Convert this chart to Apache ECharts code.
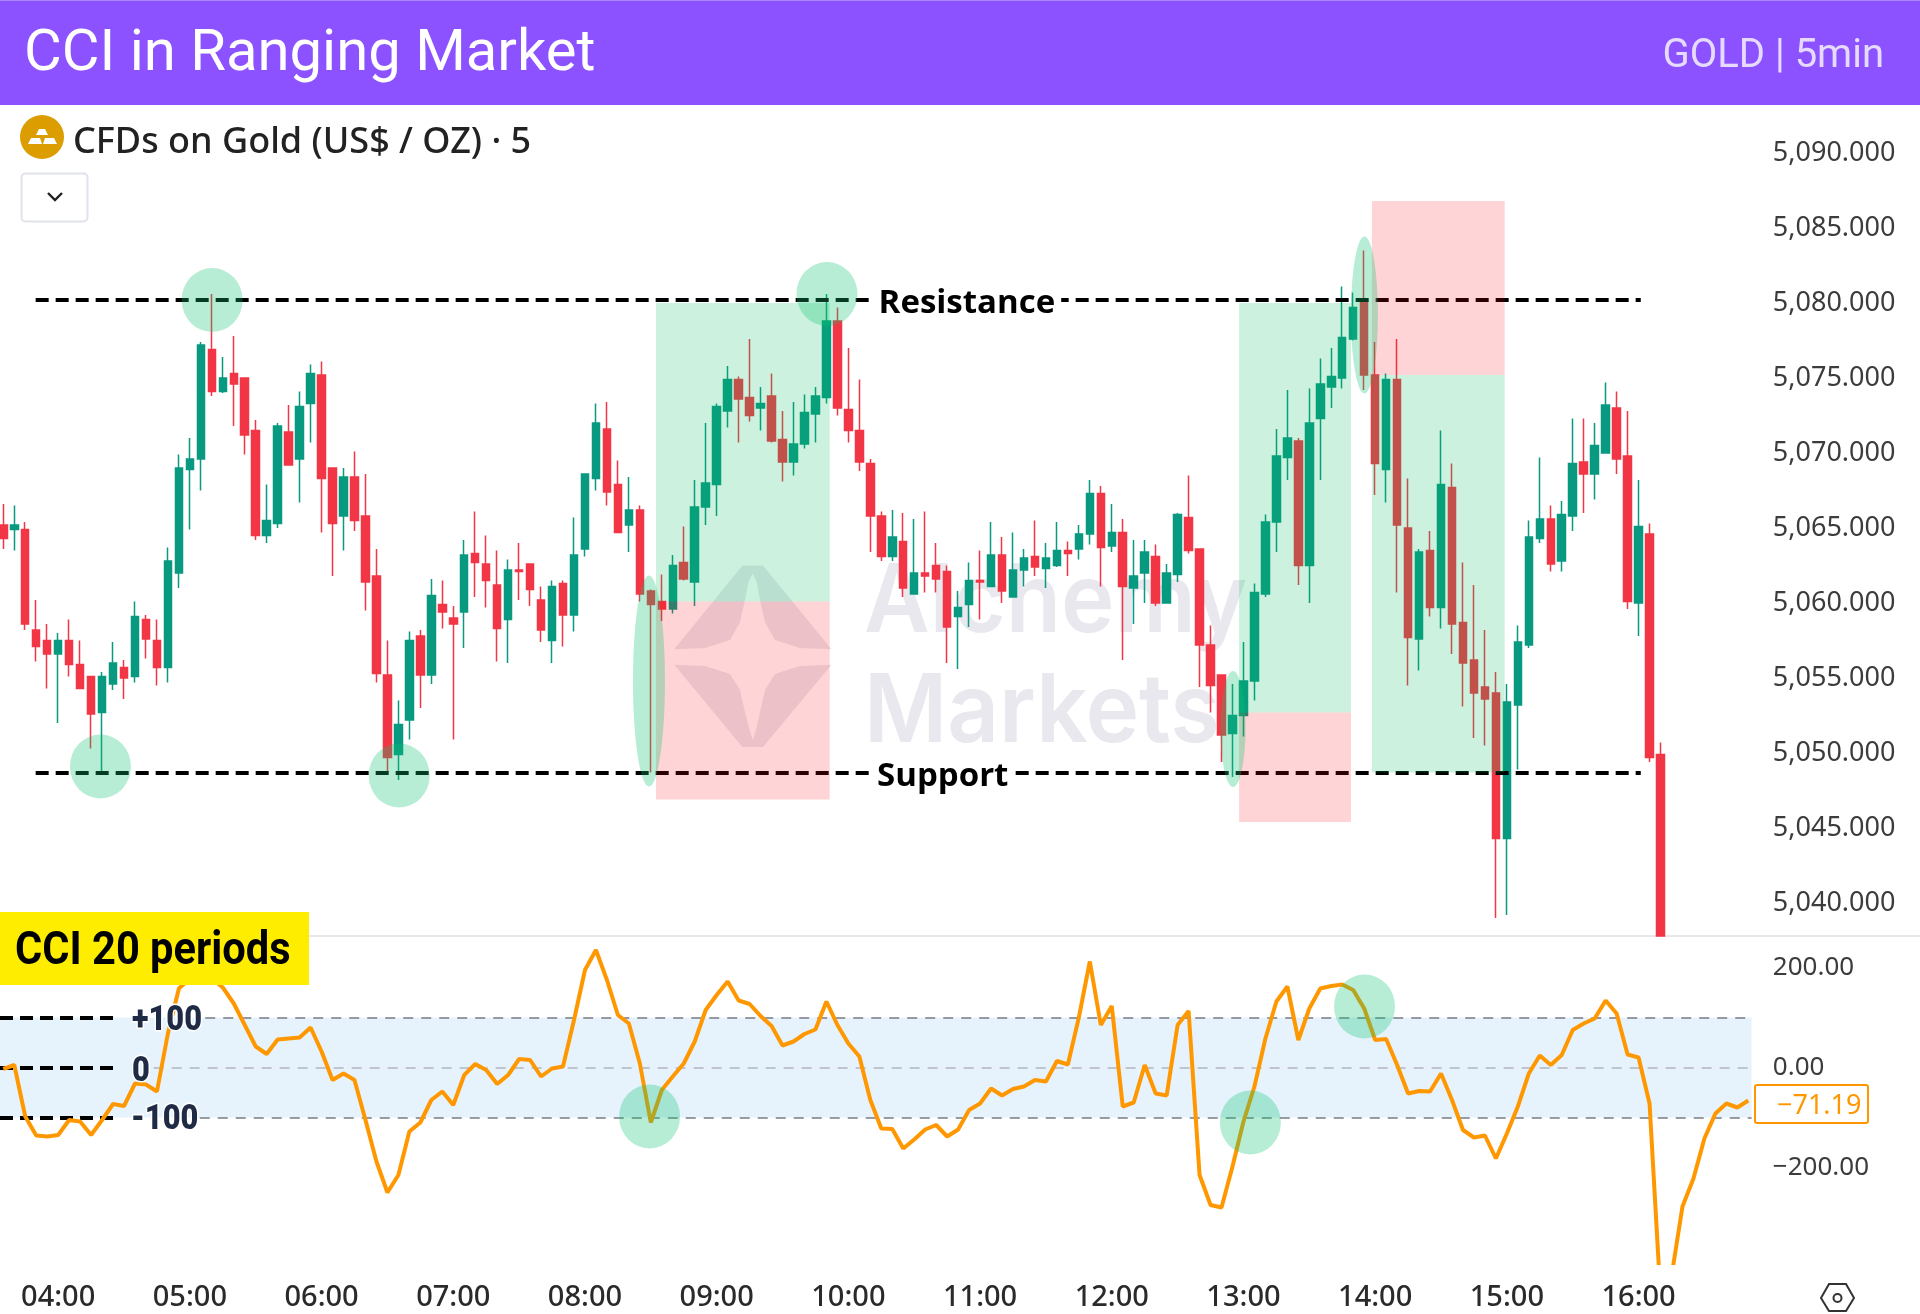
<!DOCTYPE html>
<html>
<head>
<meta charset="utf-8">
<title>CCI in Ranging Market</title>
<script src="https://cdn.jsdelivr.net/npm/echarts@6/dist/echarts.min.js"></script>
<style>
html, body { margin: 0; padding: 0; background: #fff; }
#chart { width: 1920px; height: 1314px; }
</style>
</head>
<body>
<div id="chart"></div>
<script>
"use strict";

// 5 minute candles, first one is 03:35
var opens = [
5065.2,5064.9,5064.9,5058.2,5057.5,5056.6,5057.5,5055.9,5055.1,5052.7,5054.6,5055.7,5055.1,5058.9,5057.5,5055.7,
5062.0,5068.9,5069.6,5076.9,5074.1,5075.3,5075.0,5071.5,5064.5,5065.3,5071.4,5069.6,5073.3,5075.2,5069.0,5065.8,
5068.4,5065.8,5061.8,5055.2,5049.9,5052.2,5057.8,5055.2,5059.9,5059.0,5059.4,5063.3,5062.6,5061.2,5058.9,5062.2,
5062.6,5060.2,5057.5,5061.3,5059.2,5063.6,5068.3,5071.6,5067.9,5065.2,5066.2,5060.8,5060.1,5059.6,5062.7,5061.4,
5066.4,5067.9,5072.8,5074.9,5073.7,5073.0,5073.8,5070.9,5069.4,5070.6,5072.6,5073.7,5078.8,5072.9,5071.5,5069.3,
5065.8,5063.1,5064.1,5060.6,5062.0,5062.5,5062.1,5059.1,5059.9,5061.5,5061.1,5063.2,5060.4,5062.2,5063.1,5062.3,
5062.5,5063.5,5063.6,5064.6,5067.3,5063.8,5064.7,5061.0,5062.0,5063.1,5060.0,5061.9,5065.7,5063.6,5057.2,5055.2,
5051.3,5052.5,5054.8,5060.6,5065.4,5069.7,5070.8,5062.5,5072.3,5074.4,5075.0,5077.6,5080.1,5075.2,5068.9,5074.9,
5065.0,5057.6,5063.5,5059.7,5067.7,5058.7,5056.2,5054.4,5054.0,5044.3,5053.2,5057.2,5064.3,5065.6,5062.8,5065.8,
5069.4,5068.6,5070.0,5073.0,5069.8,5060.0,5064.6,5049.9
];
var closes = [
5064.3,5065.2,5058.6,5057.1,5056.6,5057.5,5055.9,5054.3,5052.6,5055.1,5056.0,5055.0,5059.1,5057.6,5055.7,5062.8,
5069.0,5069.6,5077.2,5074.1,5075.0,5074.6,5071.2,5064.5,5065.5,5071.8,5069.2,5073.1,5075.3,5068.3,5065.3,5068.4,
5065.5,5061.4,5055.3,5049.7,5051.9,5057.5,5055.2,5060.5,5059.4,5058.6,5063.2,5062.7,5061.5,5058.3,5062.2,5062.1,
5060.9,5058.2,5061.1,5059.2,5063.2,5068.6,5072.0,5067.4,5064.7,5066.2,5060.6,5059.9,5059.6,5062.5,5061.6,5066.4,
5068.0,5073.1,5074.9,5073.6,5072.5,5073.3,5070.8,5069.4,5070.6,5072.7,5073.8,5078.8,5073.0,5071.5,5069.4,5065.8,
5063.1,5064.4,5061.0,5062.0,5061.8,5061.6,5058.4,5059.7,5061.5,5061.4,5063.2,5060.8,5062.2,5063.0,5062.4,5063.0,
5063.5,5063.3,5064.6,5067.3,5063.7,5064.7,5061.1,5061.8,5063.4,5060.0,5062.0,5065.9,5063.5,5057.2,5054.5,5051.2,
5052.5,5054.8,5060.7,5065.4,5069.8,5071.0,5062.5,5072.0,5074.6,5075.1,5077.7,5079.7,5075.2,5069.3,5074.9,5065.2,
5057.7,5063.4,5059.7,5067.9,5058.6,5056.0,5054.0,5053.6,5044.3,5053.4,5057.4,5064.4,5065.6,5062.6,5065.9,5069.3,
5068.6,5070.5,5073.2,5069.6,5060.1,5065.1,5049.7,5037.8
];
var lows = [
5063.6,5063.5,5058.2,5056.1,5054.3,5052.0,5055.1,5054.3,5050.3,5048.7,5054.2,5053.6,5054.7,5056.3,5054.5,5054.7,
5061.0,5064.9,5067.5,5073.8,5074.0,5071.8,5069.9,5064.2,5064.0,5065.0,5069.2,5066.7,5070.7,5064.7,5061.8,5063.5,
5064.8,5059.5,5054.7,5048.7,5048.2,5050.9,5053.0,5054.6,5058.3,5050.9,5057.0,5060.4,5059.7,5056.1,5056.0,5060.2,
5059.8,5057.4,5056.0,5057.1,5058.1,5063.1,5067.5,5066.5,5064.7,5063.4,5060.1,5048.7,5058.8,5059.3,5061.5,5059.8,
5065.2,5065.8,5071.7,5070.7,5072.1,5071.5,5070.7,5068.1,5068.5,5070.3,5070.7,5073.3,5072.5,5070.7,5068.8,5063.4,
5062.8,5062.8,5060.4,5060.6,5060.7,5060.7,5056.0,5055.6,5058.4,5058.9,5061.1,5060.0,5060.4,5061.1,5061.8,5061.0,
5062.4,5061.8,5062.9,5063.9,5061.1,5063.4,5056.2,5058.6,5060.0,5059.8,5060.0,5061.4,5063.3,5054.4,5052.7,5049.4,
5048.4,5051.1,5053.5,5060.4,5063.4,5068.2,5061.2,5060.0,5068.2,5073.0,5074.3,5077.5,5074.2,5067.2,5066.7,5060.7,
5054.5,5055.5,5059.1,5058.3,5056.6,5053.1,5051.0,5050.5,5039.0,5039.2,5048.9,5057.0,5064.0,5062.1,5062.1,5064.8,
5066.0,5066.9,5070.0,5068.6,5059.6,5057.8,5049.4,5037.8
];
var highs = [
5066.6,5066.5,5065.4,5060.2,5058.6,5058.0,5058.9,5057.5,5055.1,5055.4,5057.4,5056.2,5060.1,5059.2,5058.9,5063.7,
5069.9,5071.0,5077.4,5080.6,5076.4,5077.8,5075.0,5072.2,5067.9,5072.0,5073.2,5074.1,5075.9,5076.1,5069.0,5069.0,
5070.1,5068.6,5063.6,5057.5,5053.5,5058.1,5058.2,5061.6,5061.5,5059.8,5064.2,5066.1,5064.5,5063.5,5062.9,5064.0,
5062.6,5061.1,5061.5,5061.5,5065.7,5068.6,5073.3,5073.4,5069.5,5068.4,5066.5,5060.9,5061.9,5063.2,5065.1,5068.2,
5072.0,5073.3,5075.8,5075.1,5077.6,5074.4,5075.3,5072.8,5073.4,5073.9,5074.4,5080.6,5079.7,5077.0,5074.9,5069.6,
5066.1,5066.2,5066.0,5065.6,5066.1,5064.0,5062.5,5060.8,5062.7,5063.5,5065.4,5064.4,5064.7,5063.6,5065.5,5064.0,
5065.4,5064.1,5065.2,5068.2,5067.8,5066.6,5065.6,5064.2,5064.2,5063.9,5062.6,5066.0,5068.5,5063.6,5058.5,5055.2,
5054.6,5057.4,5061.3,5065.9,5071.6,5074.2,5071.0,5074.3,5076.3,5077.0,5081.1,5080.7,5083.5,5077.4,5075.3,5077.6,
5068.3,5063.6,5064.8,5071.5,5069.3,5062.7,5061.2,5058.2,5055.4,5054.6,5058.5,5065.5,5069.7,5066.5,5066.8,5072.3,
5072.3,5072.0,5074.7,5074.1,5072.8,5068.2,5065.3,5050.7
];
// CCI(20), one value per candle, the last ones have no price candle in the picture
var cciValues = [
-3,5,-98,-136,-138,-135,-105,-108,-135,-105,
-73,-77,-32,-34,-48,68,158,178,185,178,
160,128,85,42,27,56,58,60,80,32,
-25,-12,-25,-105,-188,-250,-215,-128,-110,-65,
-48,-75,-15,7,-5,-33,-15,17,15,-18,
-2,2,95,195,235,175,105,88,8,-110,
-45,-18,8,52,115,145,172,134,127,103,
83,44,52,67,76,132,85,48,22,-65,
-122,-123,-162,-144,-124,-115,-138,-124,-85,-72,
-42,-56,-43,-38,-25,-28,13,6,100,212,
85,123,-78,-70,5,-52,-56,85,113,-215,
-275,-280,-198,-108,-38,58,132,162,55,118,
158,163,166,155,118,55,57,5,-52,-47,
-48,-12,-65,-125,-140,-136,-182,-132,-78,-12,
24,5,25,75,88,98,134,108,26,20,
-72,-458,-418,-278,-222,-142,-92,-72,-80,-66
];
var priceTicks = [5040, 5045, 5050, 5055, 5060, 5065, 5070, 5075, 5080, 5085, 5090];
var cciTicks = [-200, 0, 200];
var cciLastLabel = "\u221271.19";
var resistanceLevel = 5080.2;
var supportLevel = 5048.7;

// annotation x values are in candle widths from the left of the plot
var zoneStartsGreen = [59.97, 113.1, 125.2];
var zoneEndsGreen = [75.8, 123.3, 137.3];
var zoneTopsGreen = [5080.0, 5080.0, 5075.2];
var zoneBottomsGreen = [5060.1, 5052.7, 5048.7];
var zoneStartsRed = [59.97, 113.1, 125.2];
var zoneEndsRed = [75.8, 123.3, 137.3];
var zoneTopsRed = [5060.1, 5052.7, 5086.8];
var zoneBottomsRed = [5046.9, 5045.4, 5075.2];
var priceMarkX = [19.53, 9.35, 36.57, 75.55, 59.33, 112.55, 124.52];
var priceMarkY = [5080.2, 5049.1, 5048.5, 5080.6, 5054.8, 5051.6, 5079.2];
var cciMarkX = [59.39, 114.13, 124.53];
var cciMarkY = [-98, -110, 122];

// x axis labels
var categories = [];
for (var c = 0; c < cciValues.length; c++) {
    var minutes = 3 * 60 + 35 + c * 5;
    var hh = Math.floor(minutes / 60);
    var mm = minutes % 60;
    categories.push((hh < 10 ? "0" : "") + hh + ":" + (mm < 10 ? "0" : "") + mm);
}

var candleData = [];
for (var i = 0; i < opens.length; i++) {
    candleData.push([opens[i], closes[i], lows[i], highs[i]]);
}

// size of the highlight ellipses
var priceMarkSize = [[61, 64], [61, 64], [61, 64], [61, 64], [32, 211], [25, 116], [27, 157]];
var cciMarkSize = [[61, 64], [61, 64], [61, 64]];
var priceMarks = priceMarkX.map(function (x, k) {
    return { value: [x, priceMarkY[k]], symbolSize: priceMarkSize[k] };
});
var cciMarks = cciMarkX.map(function (x, k) {
    return { value: [x, cciMarkY[k]], symbolSize: cciMarkSize[k] };
});

var zoneAreas = [];
zoneStartsGreen.forEach(function (x, k) {
    zoneAreas.push([
        { coord: [x, zoneTopsGreen[k]], itemStyle: { color: "rgba(0,190,95,0.2)" } },
        { coord: [zoneEndsGreen[k], zoneBottomsGreen[k]] }
    ]);
});
zoneStartsRed.forEach(function (x, k) {
    zoneAreas.push([
        { coord: [x, zoneTopsRed[k]], itemStyle: { color: "rgba(255,0,10,0.17)" } },
        { coord: [zoneEndsRed[k], zoneBottomsRed[k]] }
    ]);
});

var blackDash = { color: "#000", width: 4, type: [13, 7] };
var greyDash = { color: "#787B86", width: 1.6, type: [10, 8] };
var lightDash = { color: "#B2B5BE", width: 1.6, type: [10, 8] };

function levelLine(x0, x1, y, style) {
    return [{ coord: [x0, y], lineStyle: style }, { coord: [x1, y] }];
}

var uiFont = '"Noto Sans", sans-serif';

var option = {
    backgroundColor: "#fff",
    animation: false,
    title: {
        text: "CCI in Ranging Market",
        left: 19,
        top: 21,
        z: 12,
        textStyle: { color: "#fff", fontSize: 58, fontWeight: "normal", fontFamily: "Roboto" }
    },
    grid: [
        { left: -2.19, width: 1756, top: 105, height: 831, outerBoundsMode: "none" },
        { left: -2.19, width: 1756, top: 936, height: 327, outerBoundsMode: "none" }
    ],
    xAxis: [
        { type: "category", gridIndex: 0, data: categories, show: false },
        {
            type: "category",
            gridIndex: 1,
            data: categories,
            axisLine: { show: false },
            axisTick: { show: false },
            axisLabel: {
                margin: 20,
                color: "#2a2a2a",
                fontSize: 29,
                fontWeight: 500,
                fontFamily: uiFont,
                interval: function (index) { return index % 12 === 5; }
            }
        },
        { type: "value", gridIndex: 0, min: 0, max: 160, show: false },
        { type: "value", gridIndex: 1, min: 0, max: 160, show: false }
    ],
    yAxis: [
        {
            type: "value",
            gridIndex: 0,
            position: "right",
            min: 5037.8,
            max: 5093.2,
            splitLine: { show: false },
            axisLine: { show: false },
            axisTick: { show: false },
            axisLabel: {
                customValues: priceTicks,
                margin: 19,
                color: "#3c3c3c",
                fontSize: 27,
                padding: [10, 0, 0, 0],
                fontFamily: uiFont,
                formatter: function (v) {
                    return v.toFixed(3).replace(/^(\d)(\d{3})/, "$1,$2");
                }
            }
        },
        {
            type: "value",
            gridIndex: 1,
            position: "right",
            min: -391,
            max: 263,
            splitLine: { show: false },
            axisLine: { show: false },
            axisTick: { show: false },
            axisLabel: {
                customValues: cciTicks,
                margin: 19,
                color: "#3c3c3c",
                fontSize: 26,
                padding: [10, 0, 0, 0],
                fontFamily: uiFont,
                formatter: function (v) {
                    return (v < 0 ? "\u2212" : "") + Math.abs(v).toFixed(2);
                }
            }
        }
    ],
    series: [
        {
            name: "CFDs on Gold",
            type: "candlestick",
            xAxisIndex: 0,
            yAxisIndex: 0,
            barWidth: 8,
            data: candleData,
            itemStyle: {
                color: "#089981",
                color0: "#F23645",
                borderColor: "#089981",
                borderColor0: "#F23645",
                borderWidth: 1.5
            }
        },
        {
            name: "Zones",
            type: "scatter",
            xAxisIndex: 2,
            yAxisIndex: 0,
            z: 5,
            clip: false,
            symbol: "circle",
            data: priceMarks,
            itemStyle: { color: "rgba(12,195,112,0.3)", opacity: 1 },
            markArea: { z: 4, silent: true, data: zoneAreas },
            markLine: {
                z: 3,
                silent: true,
                symbol: "none",
                label: { show: false },
                data: [
                    levelLine(3.45, 149.7, resistanceLevel, blackDash),
                    levelLine(3.45, 149.7, supportLevel, blackDash)
                ]
            }
        },
        {
            name: "Levels",
            type: "scatter",
            xAxisIndex: 2,
            yAxisIndex: 0,
            z: 6,
            symbolSize: 1,
            itemStyle: { color: "transparent", opacity: 1 },
            label: {
                show: true,
                position: "inside",
                offset: [0, 4],
                color: "#000",
                fontSize: 33,
                fontWeight: "bold",
                fontFamily: '"Open Sans", sans-serif',
                backgroundColor: "#fff",
                padding: [0, 6],
                formatter: "{b}"
            },
            data: [
                { name: "Resistance", value: [88.3, resistanceLevel] },
                { name: "Support", value: [86.1, supportLevel] }
            ]
        },
        {
            name: "CCI",
            type: "line",
            xAxisIndex: 1,
            yAxisIndex: 1,
            z: 3,
            data: cciValues,
            symbol: "none",
            smooth: false,
            lineStyle: { color: "#FF9800", width: 4 }
        },
        {
            name: "CCI marks",
            type: "scatter",
            xAxisIndex: 3,
            yAxisIndex: 1,
            z: 5,
            symbol: "circle",
            data: cciMarks,
            itemStyle: { color: "rgba(12,195,112,0.3)", opacity: 1 },
            markArea: {
                silent: true,
                itemStyle: { color: "#E6F3FD" },
                data: [[{ coord: [0.2, 100] }, { coord: [159.8, -100] }]]
            },
            markLine: {
                z: 2,
                silent: true,
                symbol: "none",
                label: { show: false },
                data: [
                    levelLine(18.9, 159.8, 100, greyDash),
                    levelLine(14.2, 159.8, 0, lightDash),
                    levelLine(18.4, 159.8, -100, greyDash),
                    levelLine(0.2, 10.7, 100, blackDash),
                    levelLine(0.2, 10.7, 0, blackDash),
                    levelLine(0.2, 10.7, -100, blackDash)
                ]
            }
        }
    ],
    graphic: [
        // watermark under the candles
        {
            type: "polygon", z: 0, silent: true,
            shape: { points: [[742.4, 565.4], [762.9, 565.4], [831.4, 649.2], [800, 648], [775, 640], [765, 622], [760, 600], [756.7, 582], [752.7, 573.6], [748.6, 582], [745, 600], [740, 622], [730, 640], [705, 648], [674.3, 649.2]] },
            style: { fill: "#E8E8EE" }
        },
        {
            type: "polygon", z: 0, silent: true,
            shape: { points: [[674.3, 664.7], [705, 666], [730, 674], [740, 690], [745, 712], [749, 728], [752.7, 739.9], [756.7, 728], [760, 712], [765, 690], [775, 674], [800, 666], [831.4, 664.7], [762.9, 747.1], [742.4, 747.1]] },
            style: { fill: "#E8E8EE" }
        },
        {
            type: "text", z: 0, silent: true, x: 864, y: 651, scaleX: 0.95,
            style: { text: "Alchemy", fill: "#E8E8EE", font: "600 95px Inter", textVerticalAlign: "bottom" }
        },
        {
            type: "text", z: 0, silent: true, x: 864, y: 761, scaleX: 0.95,
            style: { text: "Markets", fill: "#E8E8EE", font: "600 95px Inter", textVerticalAlign: "bottom" }
        },
        // header
        { type: "rect", z: 10, shape: { x: 0, y: 0, width: 1920, height: 105 }, style: { fill: "#8C52FF" } },
        { type: "rect", z: 10, shape: { x: 0, y: 0, width: 1920, height: 1 }, style: { fill: "#A985FF" } },
        {
            type: "text", z: 12, x: 1884, y: 57,
            style: { text: "GOLD | 5min", fill: "#E6DBFF", font: "40px Roboto", textAlign: "right", textVerticalAlign: "middle" }
        },
        // symbol line
        { type: "circle", z: 10, shape: { cx: 42, cy: 137, r: 22 }, style: { fill: "#DB9D00" } },
        { type: "polygon", z: 11, shape: { points: [[39, 129], [45, 129], [48, 135], [36, 135]] }, style: { fill: "#FFF" } },
        { type: "polygon", z: 11, shape: { points: [[31, 138], [40, 138], [42, 144], [28, 144]] }, style: { fill: "#FFF" } },
        { type: "polygon", z: 11, shape: { points: [[45, 138], [54, 138], [57, 144], [43, 144]] }, style: { fill: "#FFF" } },
        {
            type: "text", z: 11, x: 73, y: 143,
            style: { text: "CFDs on Gold (US$ / OZ) \u00b7 5", fill: "#222", font: "500 36px " + uiFont, textVerticalAlign: "middle" }
        },
        {
            type: "rect", z: 10,
            shape: { x: 21.5, y: 173.5, width: 66, height: 48, r: 4 },
            style: { fill: "#fff", stroke: "#E0E3EB", lineWidth: 2 }
        },
        { type: "polyline", z: 11, shape: { points: [[48, 193], [55, 200], [62, 193]] }, style: { stroke: "#222", lineWidth: 2.4, fill: null } },
        // pane separator
        { type: "line", z: 1, shape: { x1: 0, y1: 936, x2: 1920, y2: 936 }, style: { stroke: "#E8E8EC", lineWidth: 2 } },
        // CCI tag and level names
        { type: "rect", z: 10, shape: { x: 0, y: 912, width: 309, height: 73 }, style: { fill: "#FFED00" } },
        {
            type: "text", z: 11, x: 15, y: 952, scaleX: 0.905,
            style: { text: "CCI 20 periods", fill: "#000", font: "bold 46px Roboto", textVerticalAlign: "middle" }
        },
        {
            type: "text", z: 11, x: 132, y: 1021, scaleX: 0.88,
            style: { text: "+100", fill: "#1F2A44", font: "900 35px Roboto", textVerticalAlign: "middle", stroke: "#fff", lineWidth: 3 }
        },
        {
            type: "text", z: 11, x: 132, y: 1072, scaleX: 0.88,
            style: { text: "0", fill: "#1F2A44", font: "900 35px Roboto", textVerticalAlign: "middle", stroke: "#fff", lineWidth: 3 }
        },
        {
            type: "text", z: 11, x: 131, y: 1120, scaleX: 0.88,
            style: { text: "-100", fill: "#1F2A44", font: "900 35px Roboto", textVerticalAlign: "middle", stroke: "#fff", lineWidth: 3 }
        },
        // last CCI value
        {
            type: "rect", z: 10,
            shape: { x: 1755, y: 1085, width: 113, height: 38, r: 2 },
            style: { fill: "#fff", stroke: "#FF9800", lineWidth: 2 }
        },
        {
            type: "text", z: 11, x: 1777, y: 1106,
            style: { text: cciLastLabel, fill: "#FF9800", font: "27px " + uiFont, textVerticalAlign: "middle" }
        },
        // settings icon
        {
            type: "polygon", z: 11,
            shape: { points: [[1821, 1298], [1829, 1284], [1846, 1284], [1854, 1298], [1846, 1311], [1829, 1311]] },
            style: { fill: null, stroke: "#333", lineWidth: 2 }
        },
        { type: "circle", z: 11, shape: { cx: 1837.5, cy: 1298, r: 4 }, style: { fill: null, stroke: "#333", lineWidth: 2 } }
    ]
};

var myChart = echarts.init(document.getElementById("chart"), null, { renderer: "canvas" });
myChart.setOption(option);
</script>
</body>
</html>
